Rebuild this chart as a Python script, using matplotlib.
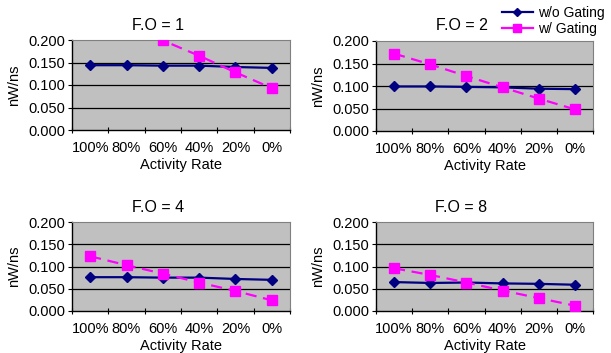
import matplotlib
matplotlib.use("Agg")
import matplotlib.pyplot as plt
from matplotlib.lines import Line2D
import numpy as np

plt.rcParams['font.family'] = ['Liberation Sans', 'DejaVu Sans']

categories = ["100%", "80%", "60%", "40%", "20%", "0%"]
titles = ["F.O = 1", "F.O = 2", "F.O = 4", "F.O = 8"]
wo_gating = [
    [0.144, 0.144, 0.143, 0.143, 0.140, 0.138],
    [0.099, 0.099, 0.098, 0.097, 0.094, 0.093],
    [0.076, 0.076, 0.075, 0.075, 0.072, 0.070],
    [0.065, 0.063, 0.064, 0.062, 0.061, 0.059],
]
w_gating = [
    [0.270, 0.234, 0.199, 0.165, 0.128, 0.093],
    [0.172, 0.148, 0.122, 0.097, 0.072, 0.048],
    [0.123, 0.103, 0.084, 0.064, 0.045, 0.024],
    [0.096, 0.081, 0.064, 0.046, 0.029, 0.012],
]
y_ticks = [0.0, 0.05, 0.10, 0.15, 0.20]

W, H = 611, 353
fig = plt.figure(figsize=(W / 100, H / 100), dpi=100)

# axes rectangles in pixel coords: left, top, right, bottom
rects = [(72, 40, 290, 130), (376, 41, 593, 131),
         (72, 222, 290, 311), (376, 222, 593, 311)]

navy = "#000080"
mag = "#FF00FF"
fs = 10.5

for i, (l, t, r, b) in enumerate(rects):
    ax = fig.add_axes([l / W, 1 - b / H, (r - l) / W, (b - t) / H])
    ax.set_facecolor("#C0C0C0")
    x = np.arange(len(categories)) + 0.5
    for yv in y_ticks[1:-1]:
        ax.axhline(yv, color="black", lw=0.9, zorder=1)
    ax.plot(x, wo_gating[i], color=navy, marker="D", ms=5, lw=1.6, zorder=3)
    ax.plot(x, w_gating[i], color=mag, marker="s", ms=6.5, lw=1.6,
            dashes=(5, 3), zorder=4)
    ax.set_xlim(0, len(categories))
    ax.set_ylim(0, 0.2)
    ax.set_yticks(y_ticks)
    ax.set_yticklabels([f"{v:.3f}" for v in y_ticks], fontsize=fs)
    ax.set_xticks(np.arange(0, len(categories) + 1))
    ax.set_xticklabels([])
    ax.set_xticks(x, minor=True)
    ax.set_xticklabels(categories, minor=True, fontsize=fs)
    ax.tick_params(axis="x", which="minor", length=0, pad=8)
    ax.tick_params(axis="x", which="major", direction="inout", length=5, width=0.8)
    ax.tick_params(axis="y", direction="out", length=3, width=0.8, pad=2)
    for s in ["top", "right"]:
        ax.spines[s].set_color("#808080")
        ax.spines[s].set_linewidth(0.8)
    for s in ["left", "bottom"]:
        ax.spines[s].set_color("black")
        ax.spines[s].set_linewidth(1.0)
    # title centred on the chart area (shifted left of plot centre)
    cx = (l + r) / 2 - 23
    fig.text(cx / W, 1 - (t - 15) / H, titles[i], fontsize=11.5,
             ha="center", va="center")
    ax.set_xlabel("Activity Rate", fontsize=fs, labelpad=2)
    ax.set_ylabel("nW/ns", fontsize=fs, labelpad=5)

handles = [Line2D([], [], color=navy, marker="D", ms=4.5, lw=1.6),
           Line2D([], [], color=mag, marker="s", ms=6, lw=1.6)]
fig.legend(handles, ["w/o Gating", "w/ Gating"], loc="upper right",
           bbox_to_anchor=(1.0, 1.0), frameon=False, fontsize=10,
           handlelength=2.2, handletextpad=0.4, labelspacing=0.15,
           borderaxespad=0.2, borderpad=0.25)

fig.savefig("out.png", dpi=100)
